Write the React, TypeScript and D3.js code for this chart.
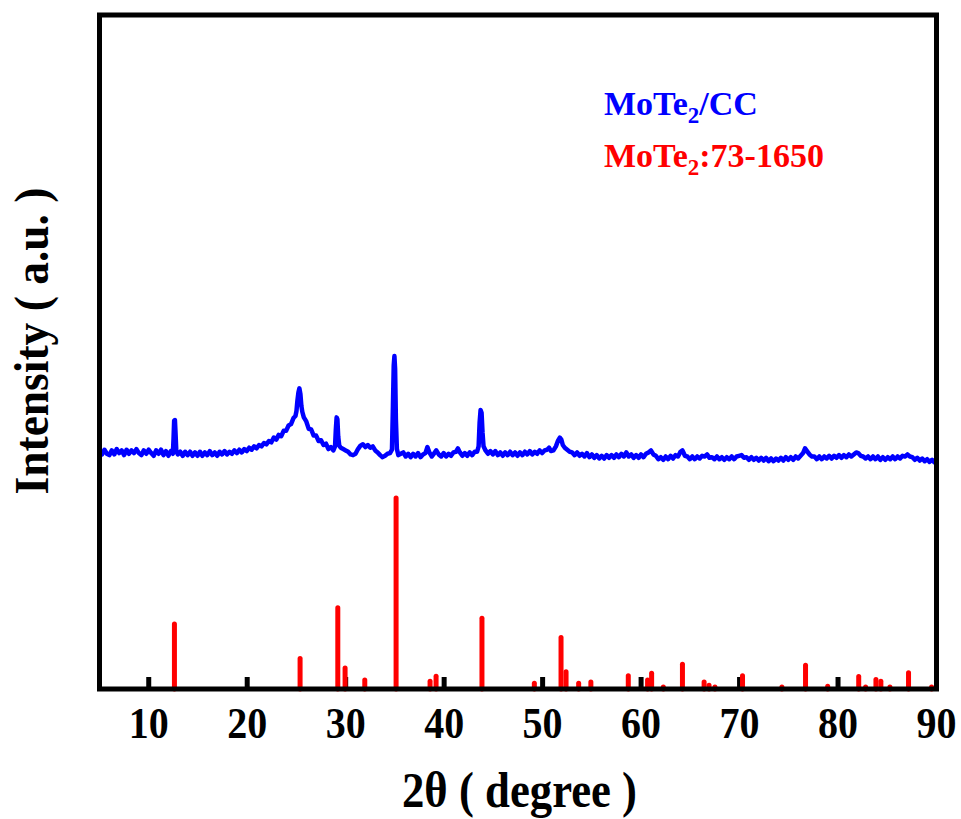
import React from "react";
import * as d3 from "d3";

// Observed XRD pattern of MoTe2/CC: [2θ (deg), intensity (a.u.)]
const obsPattern: [number, number][] = [
  [5.0,353],[5.25,348],[5.5,355],[5.75,349],[6.0,347],[6.25,354],[6.5,348],[6.75,356],[7.0,350],[7.25,354],
  [7.5,347],[7.75,355],[8.0,349],[8.25,354],[8.5,350],[8.75,356],[9.0,350],[9.25,347],[9.5,354],[9.75,349],
  [10.0,355],[10.25,350],[10.5,346],[10.75,354],[11.0,349],[11.25,355],[11.5,347],[11.75,353],[12.0,346],[12.25,353],
  [12.45,349],[12.52,372],[12.58,398],[12.66,399],[12.72,380],[12.8,353],[12.95,348],
  [13.2,352],[13.45,346],[13.7,352],[13.95,347],[14.2,352],[14.45,346],[14.7,351],[14.95,346],[15.2,352],[15.45,346],
  [15.7,351],[15.95,347],[16.2,353],[16.45,347],[16.7,351],[16.95,346],[17.2,352],[17.45,348],[17.7,353],[17.95,348],
  [18.2,352],[18.45,349],[18.7,354],[18.95,350],[19.2,355],[19.45,351],[19.7,356],[19.95,353],[20.2,358],[20.45,355],
  [20.7,360],[20.95,357],[21.2,362],[21.45,360],[21.7,365],[21.95,363],[22.2,368],[22.45,366],[22.7,373],[22.95,370],
  [23.2,377],[23.45,375],[23.7,383],[23.95,383],[24.2,391],[24.45,393],[24.7,402],[24.9,405],[25.0,412],[25.1,428],
  [25.2,440],[25.3,446],[25.4,438],[25.5,420],[25.6,411],[25.75,403],[26.0,397],[26.25,386],[26.5,385],[26.75,376],
  [27.0,376],[27.25,368],[27.5,369],[27.75,362],[28.0,364],[28.25,356],[28.5,359],[28.75,354],[28.92,360],[29.0,385],
  [29.08,403],[29.16,400],[29.24,375],[29.35,361],[29.5,358],[29.75,356],[30.0,354],[30.25,352],[30.5,348],[30.75,347],
  [31.0,349],[31.25,356],[31.5,361],[31.75,363],[32.0,359],[32.25,362],[32.5,358],[32.75,360],[33.0,354],[33.25,351],
  [33.5,347],[33.75,344],[34.0,346],[34.25,349],[34.5,350],[34.7,355],[34.8,420],[34.88,480],[34.95,494],[35.02,475],
  [35.1,400],[35.2,356],[35.35,347],[35.6,349],[35.85,351],[36.1,345],[36.35,349],[36.6,344],[36.85,349],[37.1,345],
  [37.35,350],[37.6,344],[37.85,348],[38.1,350],[38.3,359],[38.5,351],[38.75,345],[39.0,350],[39.2,354],[39.45,348],
  [39.7,345],[39.95,350],[40.2,345],[40.45,349],[40.7,346],[40.95,351],[41.2,352],[41.4,357],[41.6,351],[41.85,346],
  [42.1,350],[42.35,346],[42.6,351],[42.85,347],[43.1,352],[43.35,352],[43.5,360],[43.6,395],[43.7,414],[43.8,410],
  [43.9,380],[44.0,360],[44.2,354],[44.45,349],[44.7,353],[44.95,348],[45.2,353],[45.45,347],[45.7,351],[45.95,346],
  [46.2,351],[46.45,347],[46.7,352],[46.95,347],[47.2,351],[47.45,346],[47.7,351],[47.95,347],[48.2,352],[48.45,348],
  [48.7,353],[48.95,348],[49.2,352],[49.45,349],[49.7,354],[49.95,350],[50.2,354],[50.45,355],[50.65,358],[50.85,353],
  [51.1,354],[51.35,360],[51.55,368],[51.75,373],[51.9,370],[52.05,362],[52.25,358],[52.5,355],[52.75,352],[53.0,351],
  [53.25,347],[53.5,351],[53.75,346],[54.0,349],[54.25,345],[54.5,350],[54.75,344],[55.0,348],[55.25,343],[55.5,347],
  [55.75,342],[56.0,346],[56.25,342],[56.5,347],[56.75,343],[57.0,347],[57.25,343],[57.5,348],[57.75,344],[58.0,349],
  [58.25,345],[58.5,351],[58.75,345],[59.0,348],[59.25,343],[59.5,347],[59.75,343],[60.0,348],[60.25,344],[60.5,349],
  [60.75,351],[61.0,354],[61.25,348],[61.5,346],[61.75,341],[62.0,344],[62.25,340],[62.5,345],[62.75,341],[63.0,346],
  [63.25,342],[63.5,347],[63.75,345],[64.0,352],[64.2,354],[64.45,346],[64.7,345],[64.95,341],[65.2,345],[65.45,341],
  [65.7,345],[65.95,342],[66.2,346],[66.45,345],[66.7,348],[66.95,343],[67.2,344],[67.45,341],[67.7,345],[67.95,341],
  [68.2,344],[68.45,340],[68.7,344],[68.95,341],[69.2,345],[69.45,341],[69.7,345],[69.95,346],[70.2,347],[70.45,343],
  [70.7,344],[70.95,340],[71.2,344],[71.45,340],[71.7,343],[71.95,339],[72.2,343],[72.45,339],[72.7,343],[72.95,338],
  [73.2,342],[73.45,338],[73.7,342],[73.95,339],[74.2,343],[74.45,339],[74.7,344],[74.95,340],[75.2,344],[75.45,340],
  [75.7,345],[75.95,342],[76.2,346],[76.45,350],[76.65,357],[76.85,353],[77.1,348],[77.35,345],[77.6,345],[77.85,341],
  [78.1,345],[78.35,341],[78.6,345],[78.85,342],[79.1,346],[79.35,342],[79.6,346],[79.85,343],[80.1,347],[80.35,343],
  [80.6,347],[80.85,344],[81.1,348],[81.35,345],[81.6,348],[81.85,351],[82.05,350],[82.3,346],[82.55,345],[82.8,342],
  [83.05,345],[83.3,341],[83.55,345],[83.8,341],[84.05,345],[84.3,340],[84.55,344],[84.8,340],[85.05,344],[85.3,341],
  [85.55,345],[85.8,341],[86.05,345],[86.3,342],[86.55,346],[86.8,345],[87.05,348],[87.3,345],[87.55,344],[87.8,340],
  [88.05,343],[88.3,339],[88.55,342],[88.8,338],[89.05,341],[89.3,337],[89.55,340],[89.8,336],[90.0,338],
];

// Reference pattern MoTe2 PDF 73-1650
const refTheta = [12.61, 25.37, 29.2, 29.94, 31.94, 35.12, 38.57, 39.18, 43.84, 49.16, 51.87, 52.38, 53.66, 54.9, 58.7, 60.66, 61.07, 62.26, 64.2, 66.4, 66.9, 67.5, 70.3, 74.3, 76.7, 78.95, 82.1, 82.8, 83.85, 84.35, 85.27, 87.16, 89.5];
const refIntensity = [34, 16, 42.5, 11, 4.7, 100, 4, 6.7, 37, 3, 27, 9, 3, 3.7, 7, 4.7, 8.3, 1, 13, 3.7, 2, 1, 7, 1, 12.5, 1.5, 6.5, 1, 5, 4, 1, 8.5, 1];

const xTicks = [10, 20, 30, 40, 50, 60, 70, 80, 90];

const legendLabels = ["MoTe", "2", "/CC"];
const refLabels = ["MoTe", "2", ":73-1650"];
const xTitle = "2θ ( degree )";
const yTitle = "Intensity ( a.u. )";

export default function App() {
  const W = 961, H = 819;
  const left = 99.5, right = 936.5, top = 15, bottom = 689;
  const x = d3.scaleLinear().domain([5, 90]).range([left, right]);
  const yObs = d3.scaleLinear().domain([0, 1000]).range([bottom, top]);
  const yRef = d3.scaleLinear().domain([0, 100]).range([bottom, 498]);
  const line = d3.line<[number, number]>().x(d => x(d[0])).y(d => yObs(d[1]));
  const font = "'Liberation Serif', 'Times New Roman', serif";
  return (
    <svg width={W} height={H} style={{ position: "absolute", left: 0, top: 0, background: "#fff" }}>
      <rect x={0} y={0} width={W} height={H} fill="#fff" />
      {xTicks.map(t => (
        <line key={"t" + t} x1={x(t)} x2={x(t)} y1={bottom} y2={bottom - 12} stroke="#000" strokeWidth={5} />
      ))}
      {refTheta.map((t, i) => (
        <line key={"r" + i} x1={x(t)} x2={x(t)} y1={yRef(0)} y2={yRef(refIntensity[i])} stroke="#ff0000" strokeWidth={5} strokeLinecap="round" />
      ))}
      <path d={line(obsPattern) || ""} fill="none" stroke="#0000ff" strokeWidth={4.5} strokeLinejoin="round" />
      <rect x={left} y={top} width={right - left} height={bottom - top} fill="none" stroke="#000" strokeWidth={5} />
      {xTicks.map(t => (
        <text key={"l" + t} x={x(t)} y={738} textAnchor="middle" fontFamily={font} fontWeight="bold" fontSize={45} textLength={40} lengthAdjust="spacingAndGlyphs" fill="#000">{t}</text>
      ))}
      <text x={519.5} y={807} textAnchor="middle" fontFamily={font} fontWeight="bold" fontSize={50} textLength={235} lengthAdjust="spacingAndGlyphs" fill="#000">{xTitle}</text>
      <text transform={`translate(48, 341) rotate(-90)`} textAnchor="middle" fontFamily={font} fontWeight="bold" fontSize={48} textLength={307} lengthAdjust="spacingAndGlyphs" fill="#000">{yTitle}</text>
      <text x={604} y={115} fontFamily={font} fontWeight="bold" fontSize={34} fill="#0000ff">
        {legendLabels[0]}<tspan dy={8} fontSize={23}>{legendLabels[1]}</tspan><tspan dy={-8}>{legendLabels[2]}</tspan>
      </text>
      <text x={604} y={167} fontFamily={font} fontWeight="bold" fontSize={34} fill="#ff0000">
        {refLabels[0]}<tspan dy={8} fontSize={23}>{refLabels[1]}</tspan><tspan dy={-8}>{refLabels[2]}</tspan>
      </text>
    </svg>
  );
}
